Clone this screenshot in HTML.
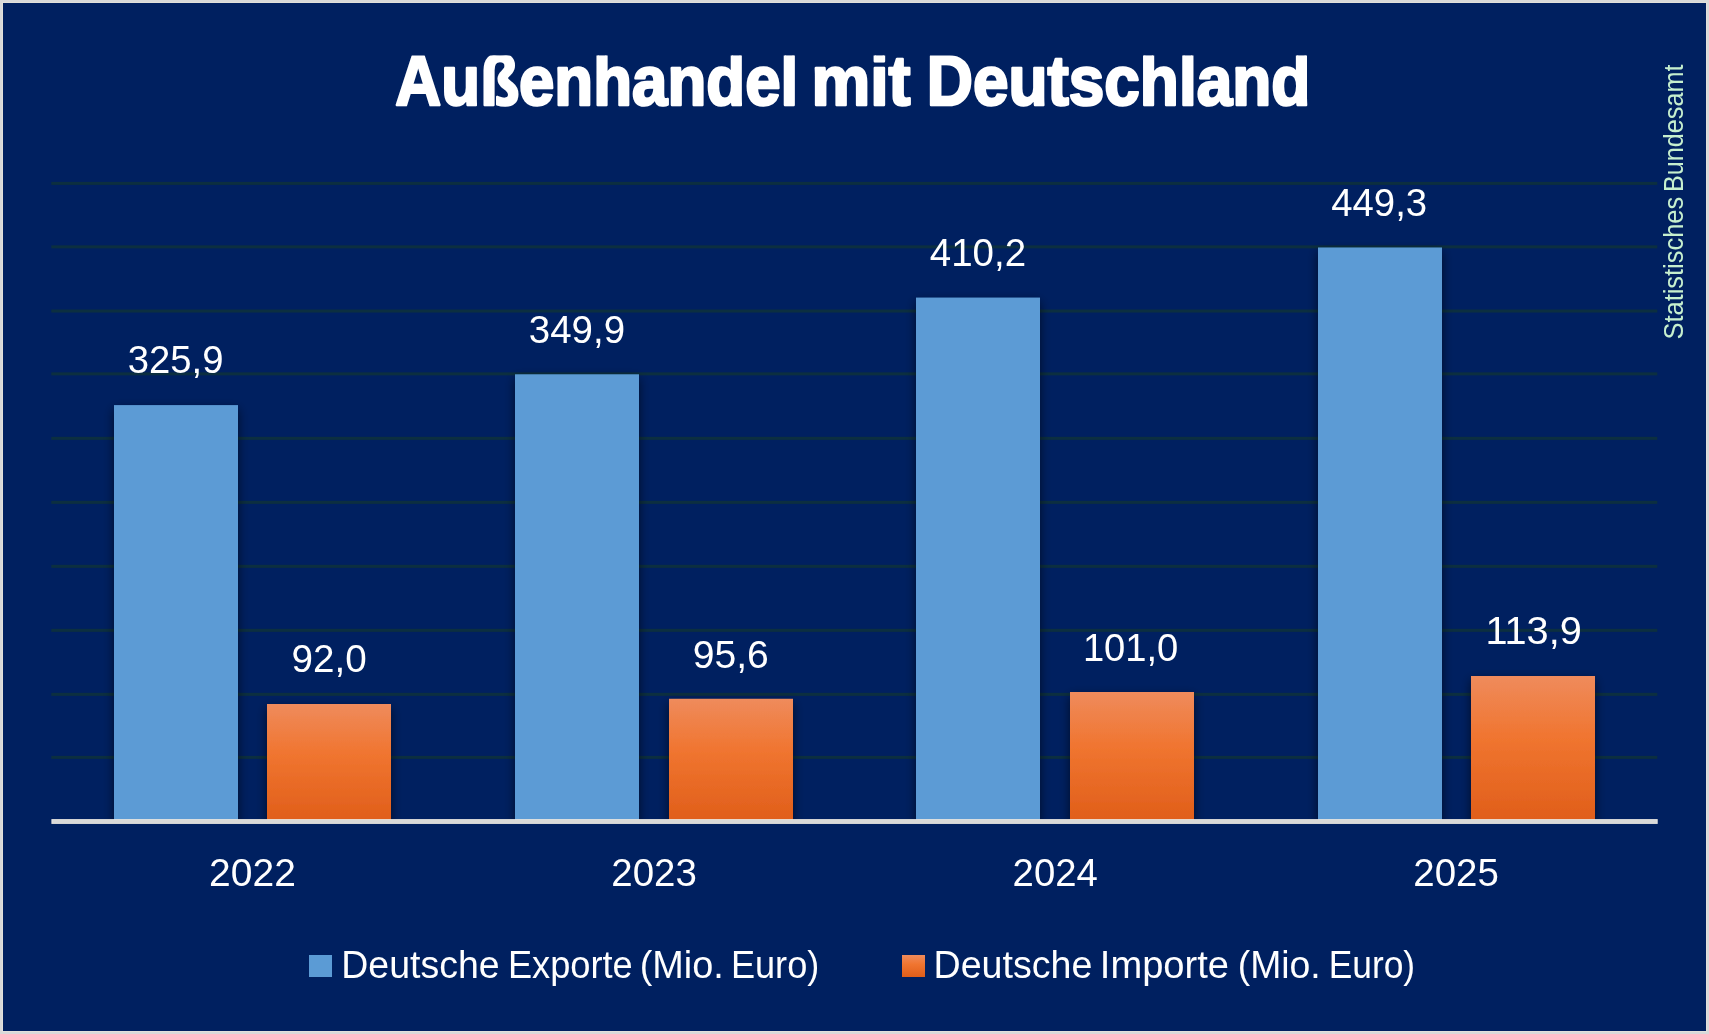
<!DOCTYPE html>
<html><head><meta charset="utf-8"><style>
html,body{margin:0;padding:0;background:#d9d9d9;overflow:hidden;}
svg{display:block;will-change:transform;}
text{font-family:"Liberation Sans",sans-serif;}
</style></head><body>
<svg width="1709" height="1034" viewBox="0 0 1709 1034">
<defs>
<linearGradient id="og" x1="0" y1="0" x2="0" y2="1">
<stop offset="0" stop-color="#ef8b5c"/>
<stop offset="0.42" stop-color="#f07530"/>
<stop offset="1" stop-color="#e05e1a"/>
</linearGradient>
<filter id="sh" x="-30%" y="-30%" width="160%" height="160%">
<feGaussianBlur in="SourceAlpha" stdDeviation="5.5"/>
<feOffset dx="0" dy="4" result="b"/>
<feComponentTransfer><feFuncA type="linear" slope="0.6"/></feComponentTransfer>
<feMerge><feMergeNode/><feMergeNode in="SourceGraphic"/></feMerge>
</filter>
<clipPath id="pc"><rect x="0" y="0" width="1709" height="821"/></clipPath>
<clipPath id="tc"><rect x="0" y="55.4" width="1709" height="100"/></clipPath>
</defs>
<rect x="0" y="0" width="1709" height="1034" fill="#d9d9d9"/>
<rect x="2" y="2" width="1705" height="1030" fill="#e2e0db"/>
<rect x="3" y="3" width="1703" height="1028" fill="#002060"/>

<rect x="51.3" y="755.88" width="1606" height="3" fill="#0c2f40"/>
<rect x="51.3" y="692.85" width="1606" height="3" fill="#0c2f40"/>
<rect x="51.3" y="628.85" width="1606" height="3" fill="#0c2f40"/>
<rect x="51.3" y="564.85" width="1606" height="3" fill="#0c2f40"/>
<rect x="51.3" y="500.85" width="1606" height="3" fill="#0c2f40"/>
<rect x="51.3" y="436.85" width="1606" height="3" fill="#0c2f40"/>
<rect x="51.3" y="372.36" width="1606" height="3" fill="#0c2f40"/>
<rect x="51.3" y="309.53" width="1606" height="3" fill="#0c2f40"/>
<rect x="51.3" y="245.36" width="1606" height="3" fill="#0c2f40"/>
<rect x="51.3" y="181.91" width="1606" height="3" fill="#0c2f40"/>
<g clip-path="url(#pc)">
<rect x="114.00" y="405.10" width="124" height="416.50" fill="#5b9bd5" filter="url(#sh)"/>
<rect x="267.00" y="704.00" width="124" height="117.60" fill="url(#og)" filter="url(#sh)"/>
<rect x="515.00" y="374.30" width="124" height="447.30" fill="#5b9bd5" filter="url(#sh)"/>
<rect x="669.00" y="698.80" width="124" height="122.80" fill="url(#og)" filter="url(#sh)"/>
<rect x="916.00" y="297.60" width="124" height="524.00" fill="#5b9bd5" filter="url(#sh)"/>
<rect x="1070.00" y="692.00" width="124" height="129.60" fill="url(#og)" filter="url(#sh)"/>
<rect x="1318.00" y="247.50" width="124" height="574.10" fill="#5b9bd5" filter="url(#sh)"/>
<rect x="1471.00" y="676.00" width="124" height="145.60" fill="url(#og)" filter="url(#sh)"/>
</g>
<rect x="51.4" y="819.1" width="1606.3" height="4.8" fill="#e9e7e2"/>
<rect x="52.4" y="820.1" width="1604.3" height="2.8" fill="#d9d9d9"/>
<text x="175.60" y="373.2" font-size="38" fill="#fff" text-anchor="middle" textLength="95.73" lengthAdjust="spacingAndGlyphs">325,9</text>
<text x="576.91" y="343.0" font-size="38" fill="#fff" text-anchor="middle" textLength="96.25" lengthAdjust="spacingAndGlyphs">349,9</text>
<text x="977.91" y="266.1" font-size="38" fill="#fff" text-anchor="middle" textLength="96.34" lengthAdjust="spacingAndGlyphs">410,2</text>
<text x="1379.20" y="216.4" font-size="38" fill="#fff" text-anchor="middle" textLength="95.91" lengthAdjust="spacingAndGlyphs">449,3</text>
<text x="329.10" y="672.2" font-size="38" fill="#fff" text-anchor="middle" textLength="75.18" lengthAdjust="spacingAndGlyphs">92,0</text>
<text x="730.79" y="667.75" font-size="38" fill="#fff" text-anchor="middle" textLength="76.10" lengthAdjust="spacingAndGlyphs">95,6</text>
<text x="1130.60" y="660.7" font-size="38" fill="#fff" text-anchor="middle" textLength="95.42" lengthAdjust="spacingAndGlyphs">101,0</text>
<text x="1533.57" y="644.2" font-size="38" fill="#fff" text-anchor="middle" textLength="96.32" lengthAdjust="spacingAndGlyphs">113,9</text>
<text x="252.49" y="886.4" font-size="38" fill="#fff" text-anchor="middle" textLength="86.77" lengthAdjust="spacingAndGlyphs">2022</text>
<text x="654.10" y="886.4" font-size="38" fill="#fff" text-anchor="middle" textLength="85.50" lengthAdjust="spacingAndGlyphs">2023</text>
<text x="1055.19" y="886.4" font-size="38" fill="#fff" text-anchor="middle" textLength="85.18" lengthAdjust="spacingAndGlyphs">2024</text>
<text x="1456.10" y="886.4" font-size="38" fill="#fff" text-anchor="middle" textLength="85.50" lengthAdjust="spacingAndGlyphs">2025</text>
<g clip-path="url(#tc)">
<text x="596.78" y="105.2" font-size="71" font-weight="bold" fill="#fff" stroke="#fff" stroke-width="2.6" stroke-linejoin="round" text-anchor="middle" textLength="402.85" lengthAdjust="spacingAndGlyphs">Außenhandel</text>
<text x="861.07" y="105.2" font-size="71" font-weight="bold" fill="#fff" stroke="#fff" stroke-width="2.6" stroke-linejoin="round" text-anchor="middle" textLength="99.05" lengthAdjust="spacingAndGlyphs">mit</text>
<text x="1118.53" y="105.2" font-size="71" font-weight="bold" fill="#fff" stroke="#fff" stroke-width="2.6" stroke-linejoin="round" text-anchor="middle" textLength="383.49" lengthAdjust="spacingAndGlyphs">Deutschland</text>
</g>
<text x="420.44" y="977.6" font-size="39" fill="#fff" text-anchor="middle" textLength="158.29" lengthAdjust="spacingAndGlyphs">Deutsche</text>
<text x="570.35" y="977.6" font-size="39" fill="#fff" text-anchor="middle" textLength="124.74" lengthAdjust="spacingAndGlyphs">Exporte</text>
<text x="681.73" y="977.6" font-size="39" fill="#fff" text-anchor="middle" textLength="84.05" lengthAdjust="spacingAndGlyphs">(Mio.</text>
<text x="775.10" y="977.6" font-size="39" fill="#fff" text-anchor="middle" textLength="88.36" lengthAdjust="spacingAndGlyphs">Euro)</text>
<text x="1012.92" y="977.6" font-size="39" fill="#fff" text-anchor="middle" textLength="158.76" lengthAdjust="spacingAndGlyphs">Deutsche</text>
<text x="1164.41" y="977.6" font-size="39" fill="#fff" text-anchor="middle" textLength="129.14" lengthAdjust="spacingAndGlyphs">Importe</text>
<text x="1279.25" y="977.6" font-size="39" fill="#fff" text-anchor="middle" textLength="82.93" lengthAdjust="spacingAndGlyphs">(Mio.</text>
<text x="1371.90" y="977.6" font-size="39" fill="#fff" text-anchor="middle" textLength="86.41" lengthAdjust="spacingAndGlyphs">Euro)</text>
<text transform="translate(1683.4,268.18) rotate(-90)" x="0" y="0" font-size="27" fill="#c6efce" text-anchor="middle" textLength="142.69" lengthAdjust="spacingAndGlyphs">Statistisches</text>
<text transform="translate(1683.4,128.26) rotate(-90)" x="0" y="0" font-size="27" fill="#c6efce" text-anchor="middle" textLength="127.50" lengthAdjust="spacingAndGlyphs">Bundesamt</text>
<rect x="309" y="955" width="23" height="22" fill="#5b9bd5"/>
<rect x="902" y="955" width="23" height="22" fill="url(#og)"/>
</svg></body></html>
